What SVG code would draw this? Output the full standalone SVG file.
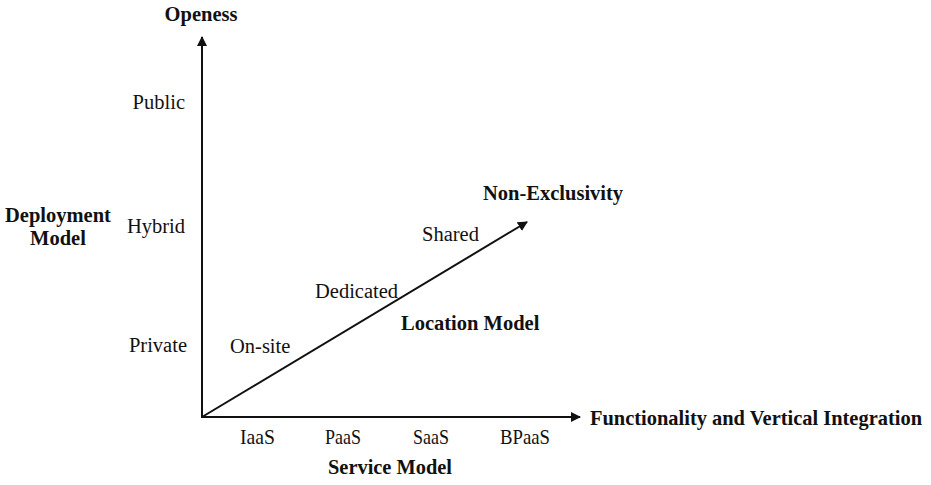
<svg xmlns="http://www.w3.org/2000/svg" width="931" height="485" viewBox="0 0 931 485">
<style>
text{font-family:"Liberation Serif","Times New Roman",serif;font-size:20.5px;fill:#111}
.b{font-weight:bold}
.c{font-size:21px}
.ax{stroke:#111;stroke-width:2;fill:none}
</style>
<defs>
<marker id="ah" viewBox="0 0 10 10" refX="9" refY="5" markerWidth="5" markerHeight="5" orient="auto" markerUnits="strokeWidth">
<path d="M0,0 L10,5 L0,10 z" fill="#111"/>
</marker>
</defs>
<rect width="931" height="485" fill="#fff"/>
<g id="connectors">
<line class="ax" x1="202" y1="418" x2="202" y2="37" marker-end="url(#ah)"/>
<line class="ax" x1="201" y1="417" x2="580" y2="417" marker-end="url(#ah)"/>
<line class="ax" x1="202" y1="417" x2="527" y2="222" marker-end="url(#ah)"/>
</g>
<g id="openess"><text class="b" x="201" y="21" text-anchor="middle">Openess</text></g>
<g id="deployment"><text class="b" x="58" y="222" text-anchor="middle">Deployment</text><text class="b" x="58" y="245" text-anchor="middle">Model</text></g>
<g id="public"><text x="185" y="109" text-anchor="end">Public</text></g>
<g id="hybrid"><text x="185" y="233" text-anchor="end">Hybrid</text></g>
<g id="private"><text x="187" y="352" text-anchor="end">Private</text></g>
<g id="nonexcl"><text class="b" x="483" y="200">Non-Exclusivity</text></g>
<g id="shared"><text x="422" y="241">Shared</text></g>
<g id="dedicated"><text x="315" y="298">Dedicated</text></g>
<g id="location"><text class="b" x="401" y="330">Location Model</text></g>
<g id="onsite"><text x="230" y="353">On-site</text></g>
<g id="iaas"><text class="c" x="240" y="444" textLength="35" lengthAdjust="spacingAndGlyphs">IaaS</text></g>
<g id="paas"><text class="c" x="325" y="444" textLength="36" lengthAdjust="spacingAndGlyphs">PaaS</text></g>
<g id="saas"><text class="c" x="413" y="444" textLength="36" lengthAdjust="spacingAndGlyphs">SaaS</text></g>
<g id="bpaas"><text class="c" x="500" y="444" textLength="50" lengthAdjust="spacingAndGlyphs">BPaaS</text></g>
<g id="service"><text class="b c" x="328" y="474" textLength="124" lengthAdjust="spacingAndGlyphs">Service Model</text></g>
<g id="functionality"><text class="b c" x="590" y="425" textLength="332" lengthAdjust="spacingAndGlyphs">Functionality and Vertical Integration</text></g>
</svg>
